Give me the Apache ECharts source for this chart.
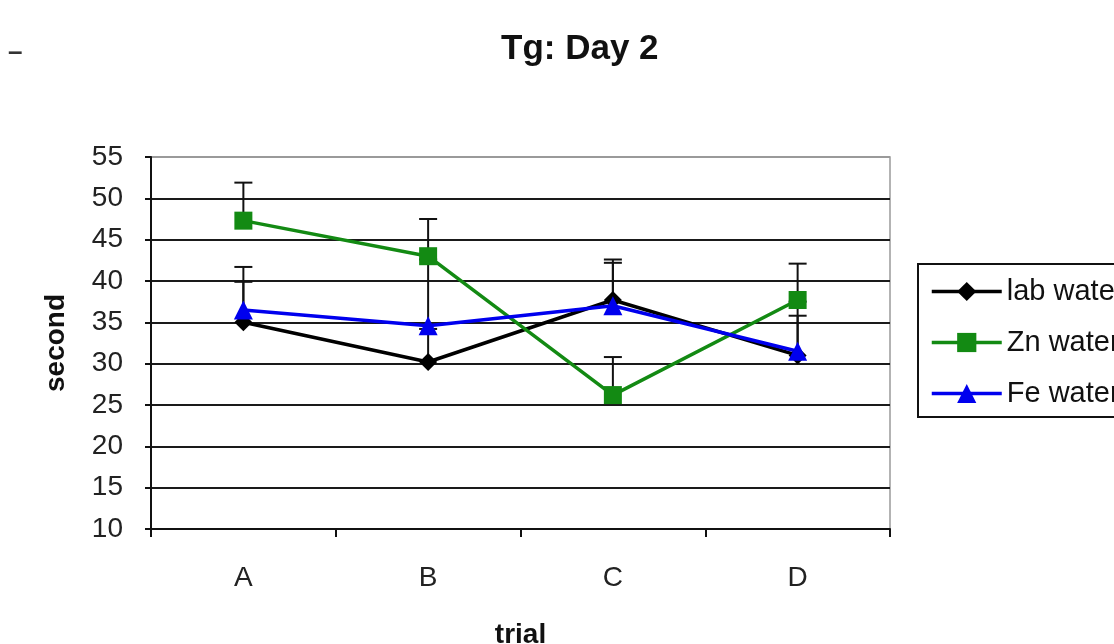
<!DOCTYPE html>
<html>
<head>
<meta charset="utf-8">
<script src="https://cdn.jsdelivr.net/npm/echarts@6/dist/echarts.min.js"></script>
<style>html,body{margin:0;padding:0;background:#fff;}#c{width:1114px;height:644px;}</style>
</head>
<body>
<div id="c"></div>
<script>
const categories = ['A', 'B', 'C', 'D'];
const seriesNames = ['lab water', 'Zn water', 'Fe water'];
const labWater = [35.0, 30.2, 37.7, 31.0];
const znWater = [47.3, 43.0, 26.2, 37.7];
const feWater = [36.5, 34.6, 37.0, 31.5];
const labErr = [4.9, 4.0, 4.9, 4.8];
const znErr = [4.6, 4.5, 4.6, 4.4];
const feErr = [5.2, 8.0, 5.2, 6.0];
const yTicks = [10, 15, 20, 25, 30, 35, 40, 45, 50, 55];

const FONT = '"Liberation Sans", Arial, sans-serif';
const colors = ['#000000', '#138a13', '#0000ee'];
const symbols = ['diamond', 'rect', 'triangle'];
const symbolSizes = [18, 18, 19];

function errSeries(vals, errs) {
  return {
    type: 'custom',
    z: 1,
    silent: true,
    data: vals.map((v, i) => [i, v, errs[i]]),
    encode: { x: 0, y: 1 },
    renderItem: function (params, api) {
      const p0 = api.coord([api.value(0), api.value(1)]);
      const p1 = api.coord([api.value(0), api.value(1) + api.value(2)]);
      const style = { stroke: '#111', lineWidth: 2 };
      return {
        type: 'group',
        children: [
          { type: 'line', shape: { x1: p0[0], y1: p0[1], x2: p1[0], y2: p1[1] }, style: style },
          { type: 'line', shape: { x1: p1[0] - 9, y1: p1[1], x2: p1[0] + 9, y2: p1[1] }, style: style }
        ]
      };
    }
  };
}

const dataSets = [labWater, znWater, feWater];
const errSets = [labErr, znErr, feErr];

const lineSeries = dataSets.map((d, k) => ({
  name: seriesNames[k],
  type: 'line',
  z: 3,
  data: d,
  symbol: symbols[k],
  symbolSize: symbolSizes[k],
  lineStyle: { color: colors[k], width: 3.5 },
  itemStyle: { color: colors[k] },
  animation: false
}));

const splitColors = yTicks.map((t, i) => i === yTicks.length - 1 ? '#9a9a9a' : '#1a1a1a');

const chart = echarts.init(document.getElementById('c'), null, { renderer: 'canvas' });
chart.setOption({
  animation: false,
  backgroundColor: '#ffffff',
  title: {
    text: 'Tg: Day 2',
    left: 496,
    top: 27,
    textStyle: { fontFamily: FONT, fontSize: 35, fontWeight: 'bold', color: '#111' }
  },
  graphic: [{
    type: 'text',
    left: 8,
    top: 40,
    style: { text: '–', fontFamily: FONT, fontSize: 26, fontWeight: 'bold', fill: '#333' }
  }],
  legend: {
    orient: 'vertical',
    left: 918,
    top: 264,
    data: seriesNames,
    padding: [13, 200, 9, 12],
    itemGap: 22,
    itemWidth: 70,
    itemHeight: 24,
    borderColor: '#111',
    borderWidth: 2,
    borderRadius: 0,
    lineStyle: { width: 3.5 },
    textStyle: { fontFamily: FONT, fontSize: 29, color: '#111', padding: [0, 0, 0, 0] }
  },
  grid: {
    left: 151, right: 224, top: 157, bottom: 115,
    outerBoundsMode: 'none',
    show: true, borderColor: '#9a9a9a', borderWidth: 1.5, backgroundColor: 'transparent'
  },
  xAxis: {
    type: 'category',
    data: categories,
    boundaryGap: true,
    name: 'trial',
    nameLocation: 'middle',
    nameGap: 92,
    nameTextStyle: { fontFamily: FONT, fontSize: 28, fontWeight: 'bold', color: '#111' },
    axisLine: { lineStyle: { color: '#111', width: 2 } },
    axisTick: { show: true, length: 8, lineStyle: { color: '#111', width: 2 } },
    axisLabel: { margin: 35, fontFamily: FONT, fontSize: 28, color: '#222' }
  },
  yAxis: {
    type: 'value',
    min: 10,
    max: 55,
    interval: 5,
    name: 'second',
    nameLocation: 'middle',
    nameGap: 81,
    nameRotate: 90,
    nameTextStyle: { fontFamily: FONT, fontSize: 28, fontWeight: 'bold', color: '#111' },
    axisLine: { show: true, lineStyle: { color: '#111', width: 2 } },
    axisTick: { show: true, length: 6, lineStyle: { color: '#111', width: 2 } },
    axisLabel: { margin: 28, fontFamily: FONT, fontSize: 28, color: '#222' },
    splitLine: { show: true, lineStyle: { color: splitColors, width: 2 } }
  },
  series: [
    errSeries(labWater, labErr),
    errSeries(znWater, znErr),
    errSeries(feWater, feErr)
  ].concat(lineSeries)
});
</script>
</body>
</html>
